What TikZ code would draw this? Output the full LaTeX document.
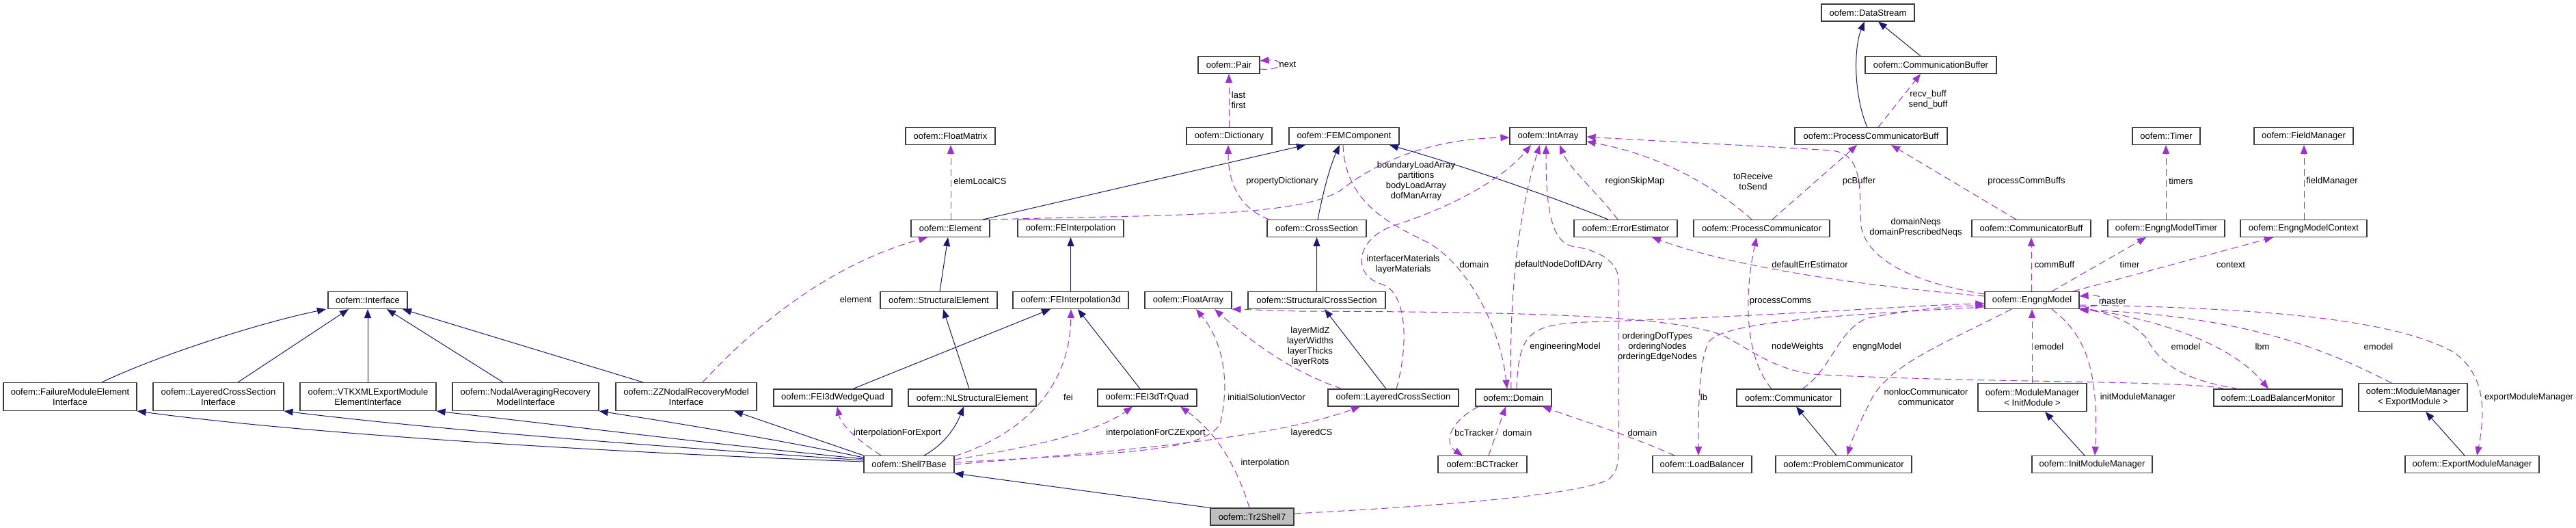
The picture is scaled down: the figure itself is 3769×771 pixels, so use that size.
\documentclass[tikz,border=0pt]{standalone}
\usepackage{fontspec}
\setmainfont{Liberation Sans}
\usetikzlibrary{arrows.meta}
\definecolor{navyc}{HTML}{191970}
\definecolor{purpc}{HTML}{9A32CD}
\definecolor{rootc}{HTML}{BFBFBF}
\definecolor{boxc}{HTML}{3A3A3A}
\begin{document}
\begin{tikzpicture}[x=1pt,y=-1pt,
  cls/.style={draw=boxc, line width=1.1pt, fill=white, minimum height=25pt, inner sep=0pt,
              font=\fontsize{13}{15}\selectfont, align=center},
  cls2/.style={cls, minimum height=41pt},
  inh/.style={draw=navyc, line width=1.0pt, -{Triangle[length=13pt,width=10pt,fill=navyc]}},
  use/.style={draw=purpc, line width=1.0pt, dash pattern=on 10pt off 6pt, -{Triangle[length=13pt,width=10pt,fill=purpc]}},
  lbl/.style={inner sep=0pt, font=\fontsize{13}{15}\selectfont, align=center}]
\useasboundingbox (0,0) rectangle (3769,771);
\fill[white] (0,0) rectangle (3769,771);

% ---------- classes ----------
\node[cls, minimum width=136pt] (ds) at (2733,18.5) {oofem::DataStream};
\node[cls, minimum width=90pt] (pair) at (1798,95) {oofem::Pair};
\node[cls, minimum width=192pt] (cb) at (2825,95) {oofem::CommunicationBuffer};

\node[cls, minimum width=131pt] (fm) at (1390.5,199) {oofem::FloatMatrix};
\node[cls, minimum width=125pt] (dict) at (1798.5,199) {oofem::Dictionary};
\node[cls, minimum width=161pt] (femc) at (1966.5,199) {oofem::FEMComponent};
\node[cls, minimum width=112pt] (ia) at (2265,199) {oofem::IntArray};
\node[cls, minimum width=223pt] (pcb) at (2737.5,199) {oofem::ProcessCommunicatorBuff};
\node[cls, minimum width=99pt] (timer) at (3169.5,199) {oofem::Timer};
\node[cls, minimum width=145pt] (fmgr) at (3370.5,199) {oofem::FieldManager};

\node[cls, minimum width=115pt] (el) at (1390.5,334) {oofem::Element};
\node[cls, minimum width=155pt] (feint) at (1566.5,334) {oofem::FEInterpolation};
\node[cls, minimum width=145pt] (cs) at (1926.5,334) {oofem::CrossSection};
\node[cls, minimum width=151pt] (errest) at (2378.5,334) {oofem::ErrorEstimator};
\node[cls, minimum width=199pt] (pcomm) at (2577.5,334) {oofem::ProcessCommunicator};
\node[cls, minimum width=174pt] (cbuff) at (2972,334) {oofem::CommunicatorBuff};
\node[cls, minimum width=171pt] (emt) at (3169.5,334) {oofem::EngngModelTimer};
\node[cls, minimum width=185pt] (emc) at (3370.5,334) {oofem::EngngModelContext};

\node[cls, minimum width=116pt] (iface) at (538,439) {oofem::Interface};
\node[cls, minimum width=171pt] (st) at (1373.5,439) {oofem::StructuralElement};
\node[cls, minimum width=169pt] (fei3d) at (1566.5,439) {oofem::FEInterpolation3d};
\node[cls, minimum width=127pt] (fa) at (1738.5,439) {oofem::FloatArray};
\node[cls, minimum width=201pt] (scs) at (1926.5,439) {oofem::StructuralCrossSection};
\node[cls, minimum width=138pt] (engm) at (2973,439) {oofem::EngngModel};

\node[cls2, minimum width=195pt] (fail) at (102.5,580) {oofem::FailureModuleElement\\Interface};
\node[cls2, minimum width=191pt] (lcsi) at (319.5,580) {oofem::LayeredCrossSection\\Interface};
\node[cls2, minimum width=199pt] (vtk) at (538.5,580) {oofem::VTKXMLExportModule\\ElementInterface};
\node[cls2, minimum width=214pt] (nodal) at (769,580) {oofem::NodalAveragingRecovery\\ModelInterface};
\node[cls2, minimum width=206pt] (zz) at (1004,580) {oofem::ZZNodalRecoveryModel\\Interface};
\node[cls2, minimum width=159pt] (mmi) at (2973.5,581) {oofem::ModuleManager\\< InitModule >};
\node[cls2, minimum width=159pt] (mme) at (3530.5,581) {oofem::ModuleManager\\< ExportModule >};

\node[cls, minimum width=173pt] (wedge) at (1218.5,581.5) {oofem::FEI3dWedgeQuad};
\node[cls, minimum width=187pt] (nl) at (1422.5,581.5) {oofem::NLStructuralElement};
\node[cls, minimum width=145pt] (trq) at (1678.5,581.5) {oofem::FEI3dTrQuad};
\node[cls, minimum width=191pt] (lcs) at (2038.5,581.5) {oofem::LayeredCrossSection};
\node[cls, minimum width=111pt] (dom) at (2214.5,581.5) {oofem::Domain};
\node[cls, minimum width=152pt] (comm) at (2617,581.5) {oofem::Communicator};
\node[cls, minimum width=188pt] (lbm) at (3333,581.5) {oofem::LoadBalancerMonitor};

\node[cls, minimum width=132pt] (s7b) at (1330,679) {oofem::Shell7Base};
\node[cls, minimum width=130pt] (bct) at (2169,679) {oofem::BCTracker};
\node[cls, minimum width=145pt] (lb) at (2490.5,679) {oofem::LoadBalancer};
\node[cls, minimum width=199pt] (pcc) at (2697.5,679) {oofem::ProblemCommunicator};
\node[cls, minimum width=176pt] (imm) at (3061,679) {oofem::InitModuleManager};
\node[cls, minimum width=196pt] (emm) at (3617,679) {oofem::ExportModuleManager};

\node[cls, minimum width=122pt, fill=rootc] (tr) at (1832,755.5) {oofem::Tr2Shell7};

% ---------- inheritance ----------
\draw[inh] (tr.north west) -- (s7b.south east);
\draw[inh] (s7b.north -| 1352,0) .. controls (1385,648) and (1400,620) .. (nl.south -| 1410,0);
\draw[inh] (s7b.west |- 0,675) .. controls (900,662) and (450,635) .. (fail.south east);
\draw[inh] (s7b.west |- 0,673) .. controls (1000,655) and (650,630) .. (lcsi.south east);
\draw[inh] (s7b.west |- 0,671) .. controls (1050,650) and (850,625) .. (vtk.south east);
\draw[inh] (s7b.west |- 0,669) .. controls (1150,645) and (1000,620) .. (nodal.south east);
\draw[inh] (s7b.north west) -- (zz.south -| 1074,0);
\draw[inh] (fail.north -| 149,0) .. controls (230,520) and (380,472) .. (iface.south -| 477,0);
\draw[inh] (lcsi.north -| 348,0) -- (iface.south -| 510,0);
\draw[inh] (vtk.north -| 538,0) -- (iface.south -| 538,0);
\draw[inh] (nodal.north -| 736,0) -- (iface.south -| 566,0);
\draw[inh] (zz.north -| 941,0) -- (iface.south -| 589,0);
\draw[inh] (st.north -| 1375,0) -- (el.south -| 1387,0);
\draw[inh] (nl.north -| 1418,0) -- (st.south -| 1380,0);
\draw[inh] (el.north -| 1438,0) -- (femc.south -| 1910,0);
\draw[inh] (fei3d.north) -- (feint.south);
\draw[inh] (wedge.north -| 1248,0) -- (fei3d.south -| 1537,0);
\draw[inh] (trq.north -| 1668,0) -- (fei3d.south -| 1577,0);
\draw[inh] (cs.north -| 1928,0) .. controls (1935,285) and (1945,245) .. (femc.south -| 1960,0);
\draw[inh] (scs.north) -- (cs.south);
\draw[inh] (lcs.north -| 2028,0) -- (scs.south -| 1938,0);
\draw[inh] (errest.north -| 2353,0) .. controls (2290,295) and (2150,245) .. (femc.south -| 2033,0);
\draw[inh] (pcb.north -| 2732,0) .. controls (2712,140) and (2712,70) .. (ds.south -| 2728,0);
\draw[inh] (cb.north -| 2810,0) -- (ds.south -| 2748,0);
\draw[inh] (pcc.north -| 2687,0) -- (comm.south -| 2628,0);
\draw[inh] (imm.north -| 3050,0) -- (mmi.south -| 2992,0);
\draw[inh] (emm.north -| 3606,0) -- (mme.south -| 3549,0);

% ---------- usage ----------
\draw[use] (el.north -| 1391,0) -- (fm.south -| 1391,0);
\draw[use] (el.north east) .. controls (1700,314) and (1900,318) .. (1962,278) .. controls (2020,232) and (2100,203) .. (ia.west |- 0,201);
\draw[use] (cs.north -| 1857,0) .. controls (1815,305) and (1797,270) .. (dict.south -| 1797,0);
\draw[use] (pair.east |- 0,101) .. controls (1880,104) and (1880,86) .. (pair.east |- 0,89);
\draw[use] (dict.north -| 1798,0) -- (pair.south -| 1798,0);
\draw[use] (femc.south -| 1965,0) .. controls (1968,300) and (2040,330) .. (2090,355) .. controls (2150,390) and (2195,480) .. (dom.north -| 2205,0);
\draw[use] (dom.north -| 2211,0) .. controls (2207,420) and (2225,300) .. (ia.south -| 2253,0);
\draw[use] (dom.north -| 2219,0) .. controls (2222,490) and (2235,474) .. (2320,471) .. controls (2600,462) and (2800,446) .. (engm.west |- 0,444);
\draw[use] (lcs.north -| 2043,0) .. controls (2062,500) and (2058,425) .. (2020,415) .. controls (1975,400) and (1985,345) .. (2045,328) .. controls (2130,300) and (2200,260) .. (ia.south -| 2240,0);
\draw[use] (lcs.north -| 1963,0) .. controls (1880,540) and (1820,490) .. (fa.south -| 1777,0);
\draw[use] (s7b.east |- 0,676) .. controls (1650,662) and (1760,660) .. (1785,620) .. controls (1800,560) and (1790,500) .. (fa.south -| 1750,0);
\draw[use] (s7b.east |- 0,667) .. controls (1480,640) and (1565,580) .. (fei3d.south -| 1567,0);
\draw[use] (s7b.east |- 0,672) .. controls (1500,655) and (1600,635) .. (trq.south -| 1657,0);
\draw[use] (s7b.east |- 0,679) .. controls (1600,662) and (1850,645) .. (lcs.south -| 1990,0);
\draw[use] (tr.north -| 1828,0) .. controls (1815,700) and (1790,640) .. (trq.south -| 1727,0);
\draw[use] (s7b.north -| 1289,0) .. controls (1250,640) and (1230,620) .. (wedge.south -| 1225,0);
\draw[use] (zz.north -| 1028,0) .. controls (1110,470) and (1220,385) .. (el.south -| 1357,0);
\draw[use] (tr.east |- 0,751) .. controls (2100,740) and (2300,725) .. (2352,702) .. controls (2368,690) and (2368,675) .. (2368,650) -- (2368,410) .. controls (2368,378) and (2330,364) .. (2300,360) .. controls (2268,352) and (2262,300) .. (ia.south -| 2262,0);
\draw[use] (errest.north -| 2367,0) .. controls (2340,285) and (2295,245) .. (ia.south -| 2282,0);
\draw[use] (pcomm.north -| 2563,0) .. controls (2500,265) and (2420,225) .. (ia.east |- 0,207);
\draw[use] (pcomm.north -| 2593,0) -- (pcb.south -| 2717,0);
\draw[use] (pcb.north -| 2748,0) -- (cb.south -| 2810,0);
\draw[use] (cbuff.north -| 2950,0) -- (pcb.south -| 2767,0);
\draw[use] (engm.north -| 2972,0) -- (cbuff.south -| 2972,0);
\draw[use] (engm.north -| 3002,0) -- (emt.south -| 3140,0);
\draw[use] (engm.north -| 3033,0) -- (emc.south -| 3326,0);
\draw[use] (emt.north -| 3169,0) -- (timer.south -| 3169,0);
\draw[use] (emc.north -| 3371,0) -- (fmgr.south -| 3371,0);
\draw[use] (engm.west |- 0,433) .. controls (2750,420) and (2550,395) .. (errest.south -| 2417,0);
\draw[use] (engm.west |- 0,430) .. controls (2780,410) and (2722,370) .. (2722,320) .. controls (2722,260) and (2720,225) .. (2680,220) .. controls (2550,212) and (2400,205) .. (ia.east |- 0,200);
\draw[use] (engm.west |- 0,449) .. controls (2700,460) and (2520,470) .. (2500,500) .. controls (2485,530) and (2485,600) .. (lb.north -| 2485,0);
\draw[use] (comm.north -| 2637,0) .. controls (2680,540) and (2690,480) .. (2733,465) .. controls (2800,452) and (2860,447) .. (engm.west |- 0,447);
\draw[use] (comm.north -| 2592,0) .. controls (2555,525) and (2550,440) .. (pcomm.south -| 2570,0);
\draw[use] (engm.south -| 2943,0) .. controls (2850,500) and (2770,530) .. (2740,580) .. controls (2725,610) and (2710,640) .. (pcc.north -| 2703,0);
\draw[use] (lb.north -| 2450,0) .. controls (2380,635) and (2300,610) .. (dom.south -| 2257,0);
\draw[use] (dom.south -| 2163,0) .. controls (2115,620) and (2115,650) .. (bct.north -| 2140,0);
\draw[use] (bct.north -| 2178,0) -- (dom.south -| 2203,0);
\draw[use] (engm.east |- 0,448) .. controls (3088,451) and (3088,430) .. (engm.east |- 0,433);
\draw[use] (engm.east |- 0,450) .. controls (3180,470) and (3270,510) .. (lbm.north -| 3319,0);
\draw[use] (lbm.north -| 3275,0) .. controls (3190,555) and (3160,530) .. (3140,494) .. controls (3120,470) and (3080,456) .. (engm.east |- 0,452);
\draw[use] (mme.north -| 3499,0) .. controls (3420,520) and (3300,462) .. (engm.east |- 0,453);
\draw[use] (engm.east |- 0,446) .. controls (3300,450) and (3500,465) .. (3590,515) .. controls (3640,550) and (3635,610) .. (emm.north -| 3624,0);
\draw[use] (engm.south -| 3002,0) .. controls (3045,485) and (3072,530) .. (imm.north -| 3065,0);
\draw[use] (mmi.north -| 2973,0) -- (engm.south -| 2973,0);
\draw[use] (lbm.north -| 3255,0) .. controls (3200,556) and (2900,560) .. (2667,548) .. controls (2600,545) and (2560,510) .. (2520,490) .. controls (2450,465) and (2300,456) .. (1900,455) -- (fa.east |- 0,452);

% ---------- labels ----------
\node[lbl] (l1) at (1434,265) {elemLocalCS};
\node[lbl] (l2) at (2072,265) {boundaryLoadArray\\partitions\\bodyLoadArray\\dofManArray};
\node[lbl] (l3) at (1876,265) {propertyDictionary};
\node[lbl] (l4) at (1884,94) {next};
\node[lbl] (l5) at (1812,146) {last\\first};
\node[lbl] (l6) at (2157,387) {domain};
\node[lbl] (l7) at (2281,387) {defaultNodeDofIDArry};
\node[lbl] (l8) at (2290,507) {engineeringModel};
\node[lbl] (l9) at (2053,387) {interfacerMaterials\\layerMaterials};
\node[lbl] (l10) at (1917,507) {layerMidZ\\layerWidths\\layerThicks\\layerRots};
\node[lbl] (l11) at (1853,581) {initialSolutionVector};
\node[lbl] (l12) at (1563,581) {fei};
\node[lbl] (l13) at (1691,633) {interpolationForCZExport};
\node[lbl] (l14) at (1919,633) {layeredCS};
\node[lbl] (l15) at (1851,677) {interpolation};
\node[lbl] (l16) at (1313,633) {interpolationForExport};
\node[lbl] (l17) at (1252,438) {element};
\node[lbl] (l18) at (2425,507) {orderingDofTypes\\orderingNodes\\orderingEdgeNodes};
\node[lbl] (l19) at (2392,265) {regionSkipMap};
\node[lbl] (l20) at (2565,265) {toReceive\\toSend};
\node[lbl] (l21) at (2720,265) {pcBuffer};
\node[lbl] (l22) at (2821,146) {recv\_buff\\send\_buff};
\node[lbl] (l23) at (2965,265) {processCommBuffs};
\node[lbl] (l24) at (3006,387) {commBuff};
\node[lbl] (l25) at (3116,387) {timer};
\node[lbl] (l26) at (3264,387) {context};
\node[lbl] (l27) at (3191,265) {timers};
\node[lbl] (l28) at (3412,265) {fieldManager};
\node[lbl] (l29) at (2648,387) {defaultErrEstimator};
\node[lbl] (l30) at (2803,333) {domainNeqs\\domainPrescribedNeqs};
\node[lbl] (l31) at (2493,581) {lb};
\node[lbl] (l32) at (2746,507) {engngModel};
\node[lbl] (l33) at (2605,440) {processComms};
\node[lbl] (l34) at (2818,580) {nonlocCommunicator\\communicator};
\node[lbl] (l35) at (2403,633) {domain};
\node[lbl] (l36) at (2157,633) {bcTracker};
\node[lbl] (l37) at (2220,633) {domain};
\node[lbl] (l38) at (3091,440) {master};
\node[lbl] (l39) at (3310,507) {lbm};
\node[lbl] (l40) at (3198,507) {emodel};
\node[lbl] (l41) at (3480,507) {emodel};
\node[lbl] (l42) at (3700,581) {exportModuleManager};
\node[lbl] (l43) at (3128,581) {initModuleManager};
\node[lbl] (l44) at (2998,507) {emodel};
\node[lbl] (l45) at (2630,507) {nodeWeights};
\end{tikzpicture}
\end{document}
